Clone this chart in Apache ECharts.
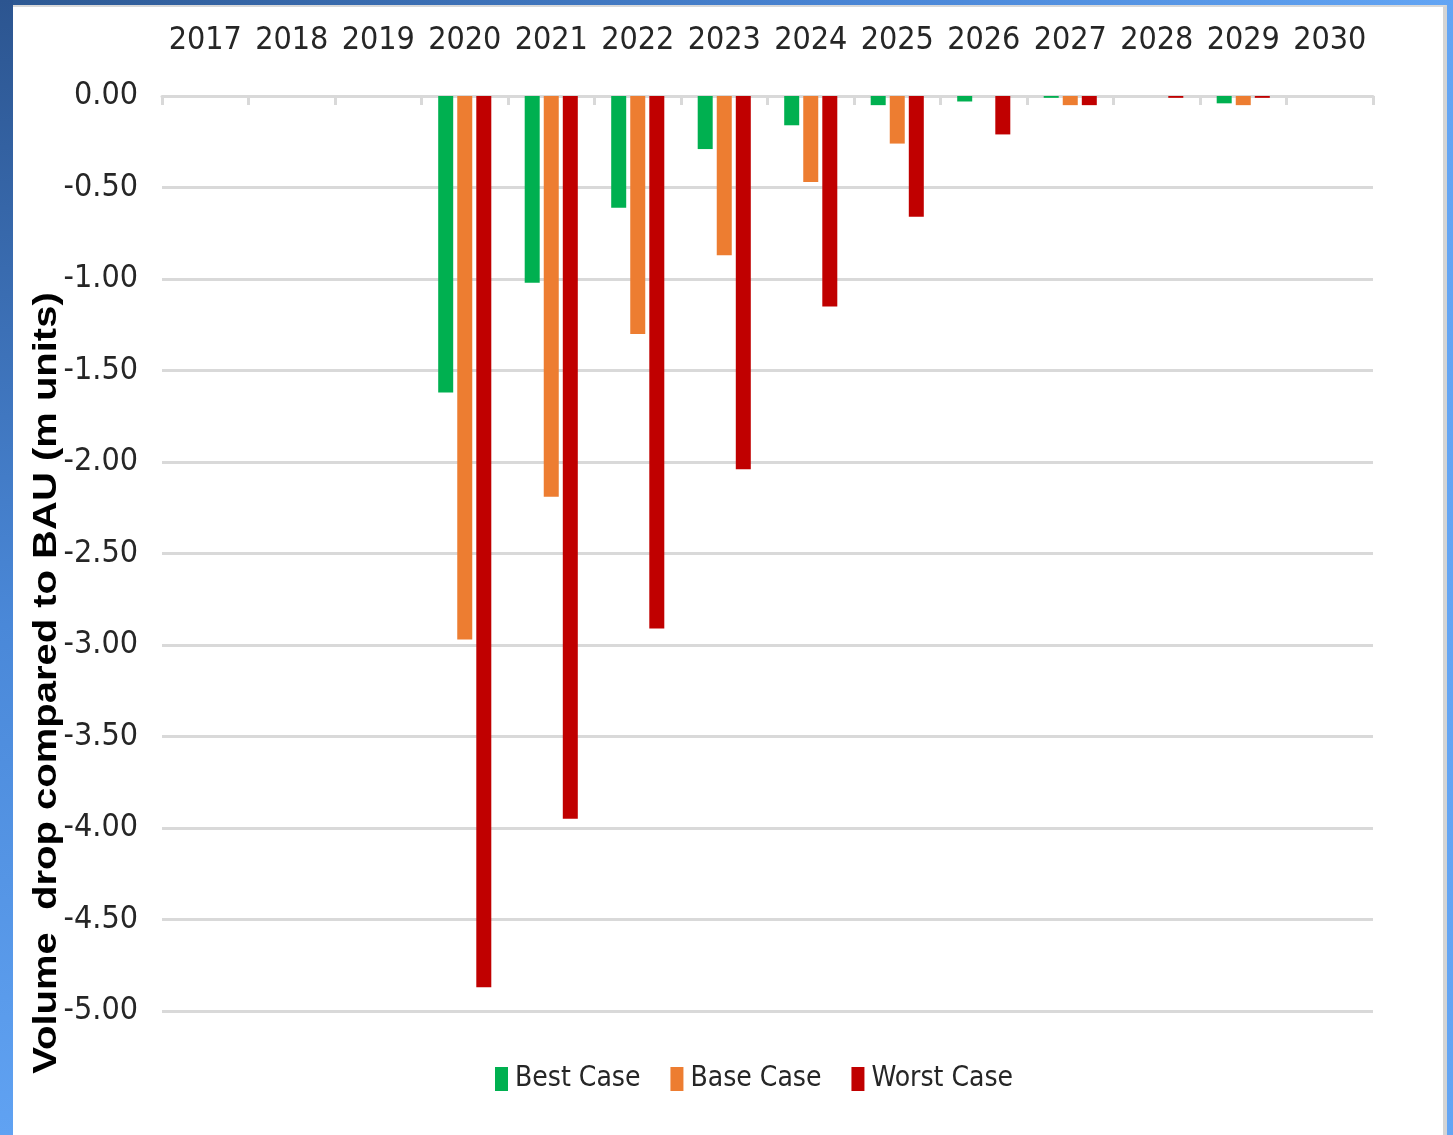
<!DOCTYPE html>
<html>
<head>
<meta charset="utf-8">
<script src="https://cdn.jsdelivr.net/npm/echarts@6/dist/echarts.min.js"></script>
<style>
html,body{margin:0;padding:0;width:1453px;height:1135px;overflow:hidden;}
body{background:linear-gradient(90deg,#2d5892 0%,#4a86d6 60%,#63a5f4 100%);position:relative;}
#side{position:absolute;left:0;top:0;width:13px;height:1135px;background:linear-gradient(180deg,#2c5590 0%,#4a88d8 55%,#60a2f2 100%);}
#paper{position:absolute;left:13px;top:5px;width:1430px;height:1130px;background:#fff;border-top:2px solid #d9d9d9;border-right:4px solid #d4d4d4;}
#mainCharts{position:absolute;left:0;top:0;width:1453px;height:1135px;}
</style>
</head>
<body>
<div id="side"></div>
<div id="paper"></div>
<div id="mainCharts"></div>
<script>
var years=['2017','2018','2019','2020','2021','2022','2023','2024','2025','2026','2027','2028','2029','2030'];
var bestCase=[0,0,0,-1.62,-1.02,-0.61,-0.29,-0.16,-0.05,-0.03,-0.01,0,-0.04,0];
var baseCase=[0,0,0,-2.97,-2.19,-1.30,-0.87,-0.47,-0.26,0,-0.05,0,-0.05,0];
var worstCase=[0,0,0,-4.87,-3.95,-2.91,-2.04,-1.15,-0.66,-0.21,-0.05,-0.01,-0.01,0];
var seriesNames=['Best Case','Base Case','Worst Case'];
var colors=['#00b050','#ed7d31','#c00000'];

var font="'Liberation Sans Narrow','DejaVu Sans Condensed','Arial Narrow',sans-serif";
var chart=echarts.init(document.getElementById('mainCharts'));

var data=[bestCase,baseCase,worstCase];
var series=data.map(function(d,i){
    return {name:seriesNames[i],type:'bar',data:d,barWidth:15,barGap:'27%',
        itemStyle:{color:colors[i]}};
});

chart.setOption({
    animation:false,
    grid:{left:162,right:80,top:96,bottom:124},
    legend:{left:490,top:1060,itemWidth:13,itemHeight:24,itemGap:30,
        data:seriesNames,icon:'rect',
        textStyle:{fontFamily:font,fontSize:28,color:'#262626',padding:[0,0,0,2]}},
    xAxis:{type:'category',data:years,position:'top',
        axisLine:{show:true,onZero:false,lineStyle:{color:'#d9d9d9',width:3}},
        axisTick:{show:true,inside:true,interval:0,length:9,lineStyle:{color:'#d9d9d9',width:3}},
        axisLabel:{interval:0,fontFamily:font,fontSize:32,color:'#262626',margin:39}},
    yAxis:{type:'value',min:-5,max:0,interval:0.5,
        axisLine:{show:false},axisTick:{show:false},
        axisLabel:{fontFamily:font,fontSize:32,color:'#262626',margin:24,
            formatter:function(v){return v.toFixed(2);}},
        splitLine:{lineStyle:{color:'#d9d9d9',width:3}}},
    graphic:[{type:'text',x:47,y:683,rotation:Math.PI/2,scaleY:0.85,
        style:{text:'Volume  drop compared to BAU (m units)',fontFamily:'Liberation Sans, Arial, sans-serif',
            fontWeight:'bold',fontSize:40,fill:'#000',align:'center',verticalAlign:'middle'}}],
    series:series
});
</script>
</body>
</html>
